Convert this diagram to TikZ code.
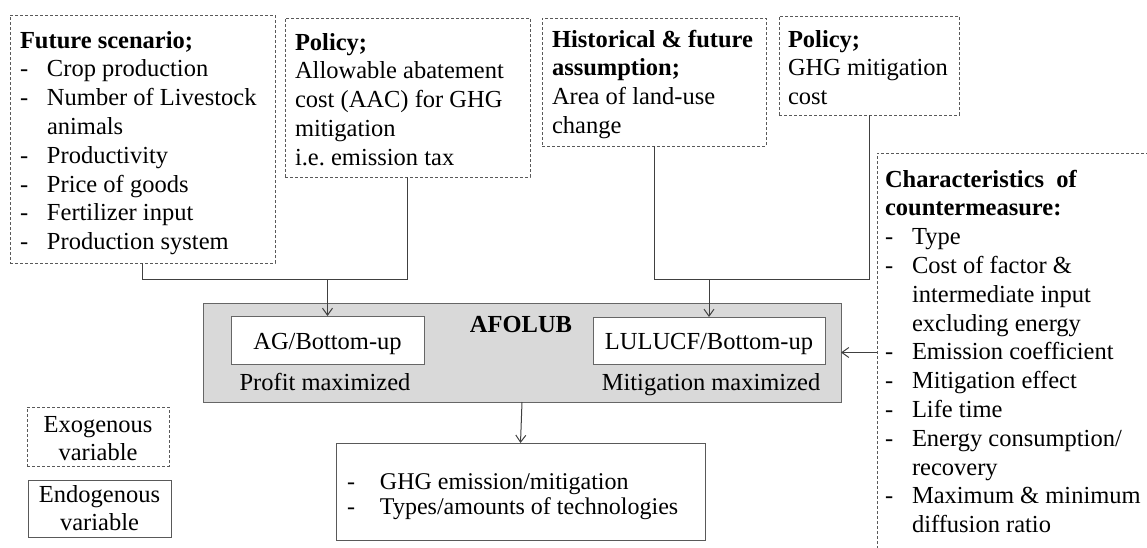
\documentclass[tikz,border=0pt]{standalone}
\usepackage{fontspec}
\setmainfont{Liberation Serif}
\usetikzlibrary{arrows.meta,calc}
\frenchspacing
\newcommand{\fs}{\fontsize{24.5}{28.8}\selectfont}
\newcommand{\bx}[3]{\parbox[t][#2][t]{#1}{\parskip=0pt\rightskip=0pt plus 1fil\relax\rule{0pt}{20pt}#3}}
\newcommand{\itm}[1]{\par\hangindent=27pt\hangafter=1\noindent\makebox[27pt][l]{-}#1}
\tikzset{
  every node/.style={font=\fs},
  exo/.style={draw=black!65, dash pattern=on 3pt off 2pt, line width=1pt, anchor=north west, inner xsep=10pt, outer sep=0pt},
  endo/.style={draw=black!65, line width=1pt, anchor=north west, outer sep=0pt},
  link/.style={draw=black!75, line width=1pt},
  arr/.style={link, -{Straight Barb[length=7pt,width=10pt]}},
  lbl/.style={anchor=base, inner sep=0pt},
}
\begin{document}
\begin{tikzpicture}[x=1pt,y=-1pt]
\useasboundingbox (0,0) rectangle (1147,547);
\clip (0,0) rectangle (1147,547);

% exogenous input boxes
\node[exo, inner ysep=13pt] (fut) at (10,15) {\bx{245pt}{222pt}{\textbf{Future scenario;}%
  \itm{Crop production}\itm{Number of Livestock\\animals}\itm{Productivity}%
  \itm{Price of goods}\itm{Fertilizer input}\itm{Production system}}};
\node[exo, inner ysep=12pt] (pol1) at (285,18) {\bx{225pt}{135pt}{\textbf{Policy;}\\Allowable abatement\\cost (AAC) for GHG\\mitigation\\i.e. emission tax}};
\node[exo, inner ysep=9pt] (hist) at (542,18) {\bx{204pt}{110pt}{\textbf{Historical \& future\\assumption;}\\Area of land-use\\change}};
\node[exo, inner ysep=11pt, inner xsep=9pt] (pol2) at (779,16) {\bx{162pt}{77pt}{\textbf{Policy;}\\GHG mitigation\\cost}};
\node[exo, inner ysep=14pt, inner xsep=8pt] (char) at (877,153) {\bx{300pt}{392pt}{\textbf{Characteristics~~of\\countermeasure:}%
  \itm{Type}\itm{Cost of factor \&\\intermediate input\\excluding energy}\itm{Emission coefficient}%
  \itm{Mitigation effect}\itm{Life time}\itm{Energy consumption/\\recovery}\itm{Maximum \& minimum\\diffusion ratio}}};

% model block
\node[endo, fill=black!15, draw=black!60, minimum width=638pt, minimum height=99pt, inner sep=0pt] (afolub) at (203,303) {};
\node[endo, fill=white, draw=black!60, minimum width=193pt, minimum height=48pt, text height=18pt, text depth=0pt, inner sep=0pt] (ag) at (231,316) {AG/Bottom-up};
\node[endo, fill=white, draw=black!60, minimum width=232pt, minimum height=47pt, text height=18pt, text depth=0pt, inner sep=0pt] (lulucf) at (593,317) {LULUCF/Bottom-up};
\node[lbl, font=\fs\bfseries] (aflabel) at (521,332) {AFOLUB};
\node[lbl] (profit) at (325,390) {Profit maximized};
\node[lbl] (mitig) at (711,390) {Mitigation maximized};

% result
\node[endo, inner xsep=11pt, inner ysep=26pt] (res) at (336,443) {\bx{347pt}{45pt}{\fontsize{24}{25}\selectfont\makebox[33pt][l]{-}GHG emission/mitigation\\\makebox[33pt][l]{-}Types/amounts of technologies}};

% legend
\node[exo, inner xsep=0pt, inner ysep=5pt] (lexo) at (27,407) {\bx{142pt}{49pt}{\centering Exogenous\\variable}};
\node[endo, inner xsep=0pt, inner ysep=2pt] (lendo) at (28,480) {\bx{143pt}{53pt}{\centering Endogenous\\variable}};

% connectors
\coordinate (jl) at (0,279);
\draw[link] (fut.south) |- (pol1.south |- jl) -- (pol1.south);
\draw[arr] (ag.north |- jl) -- (ag.north);
\draw[link] (hist.south) |- (pol2.south |- jl) -- (pol2.south);
\draw[arr] (lulucf.north |- jl) -- (lulucf.north);
\draw[arr] (afolub.east -| char.west) -- (afolub.east);
\draw[arr] (afolub.south) -- (res.north);
\end{tikzpicture}
\end{document}
